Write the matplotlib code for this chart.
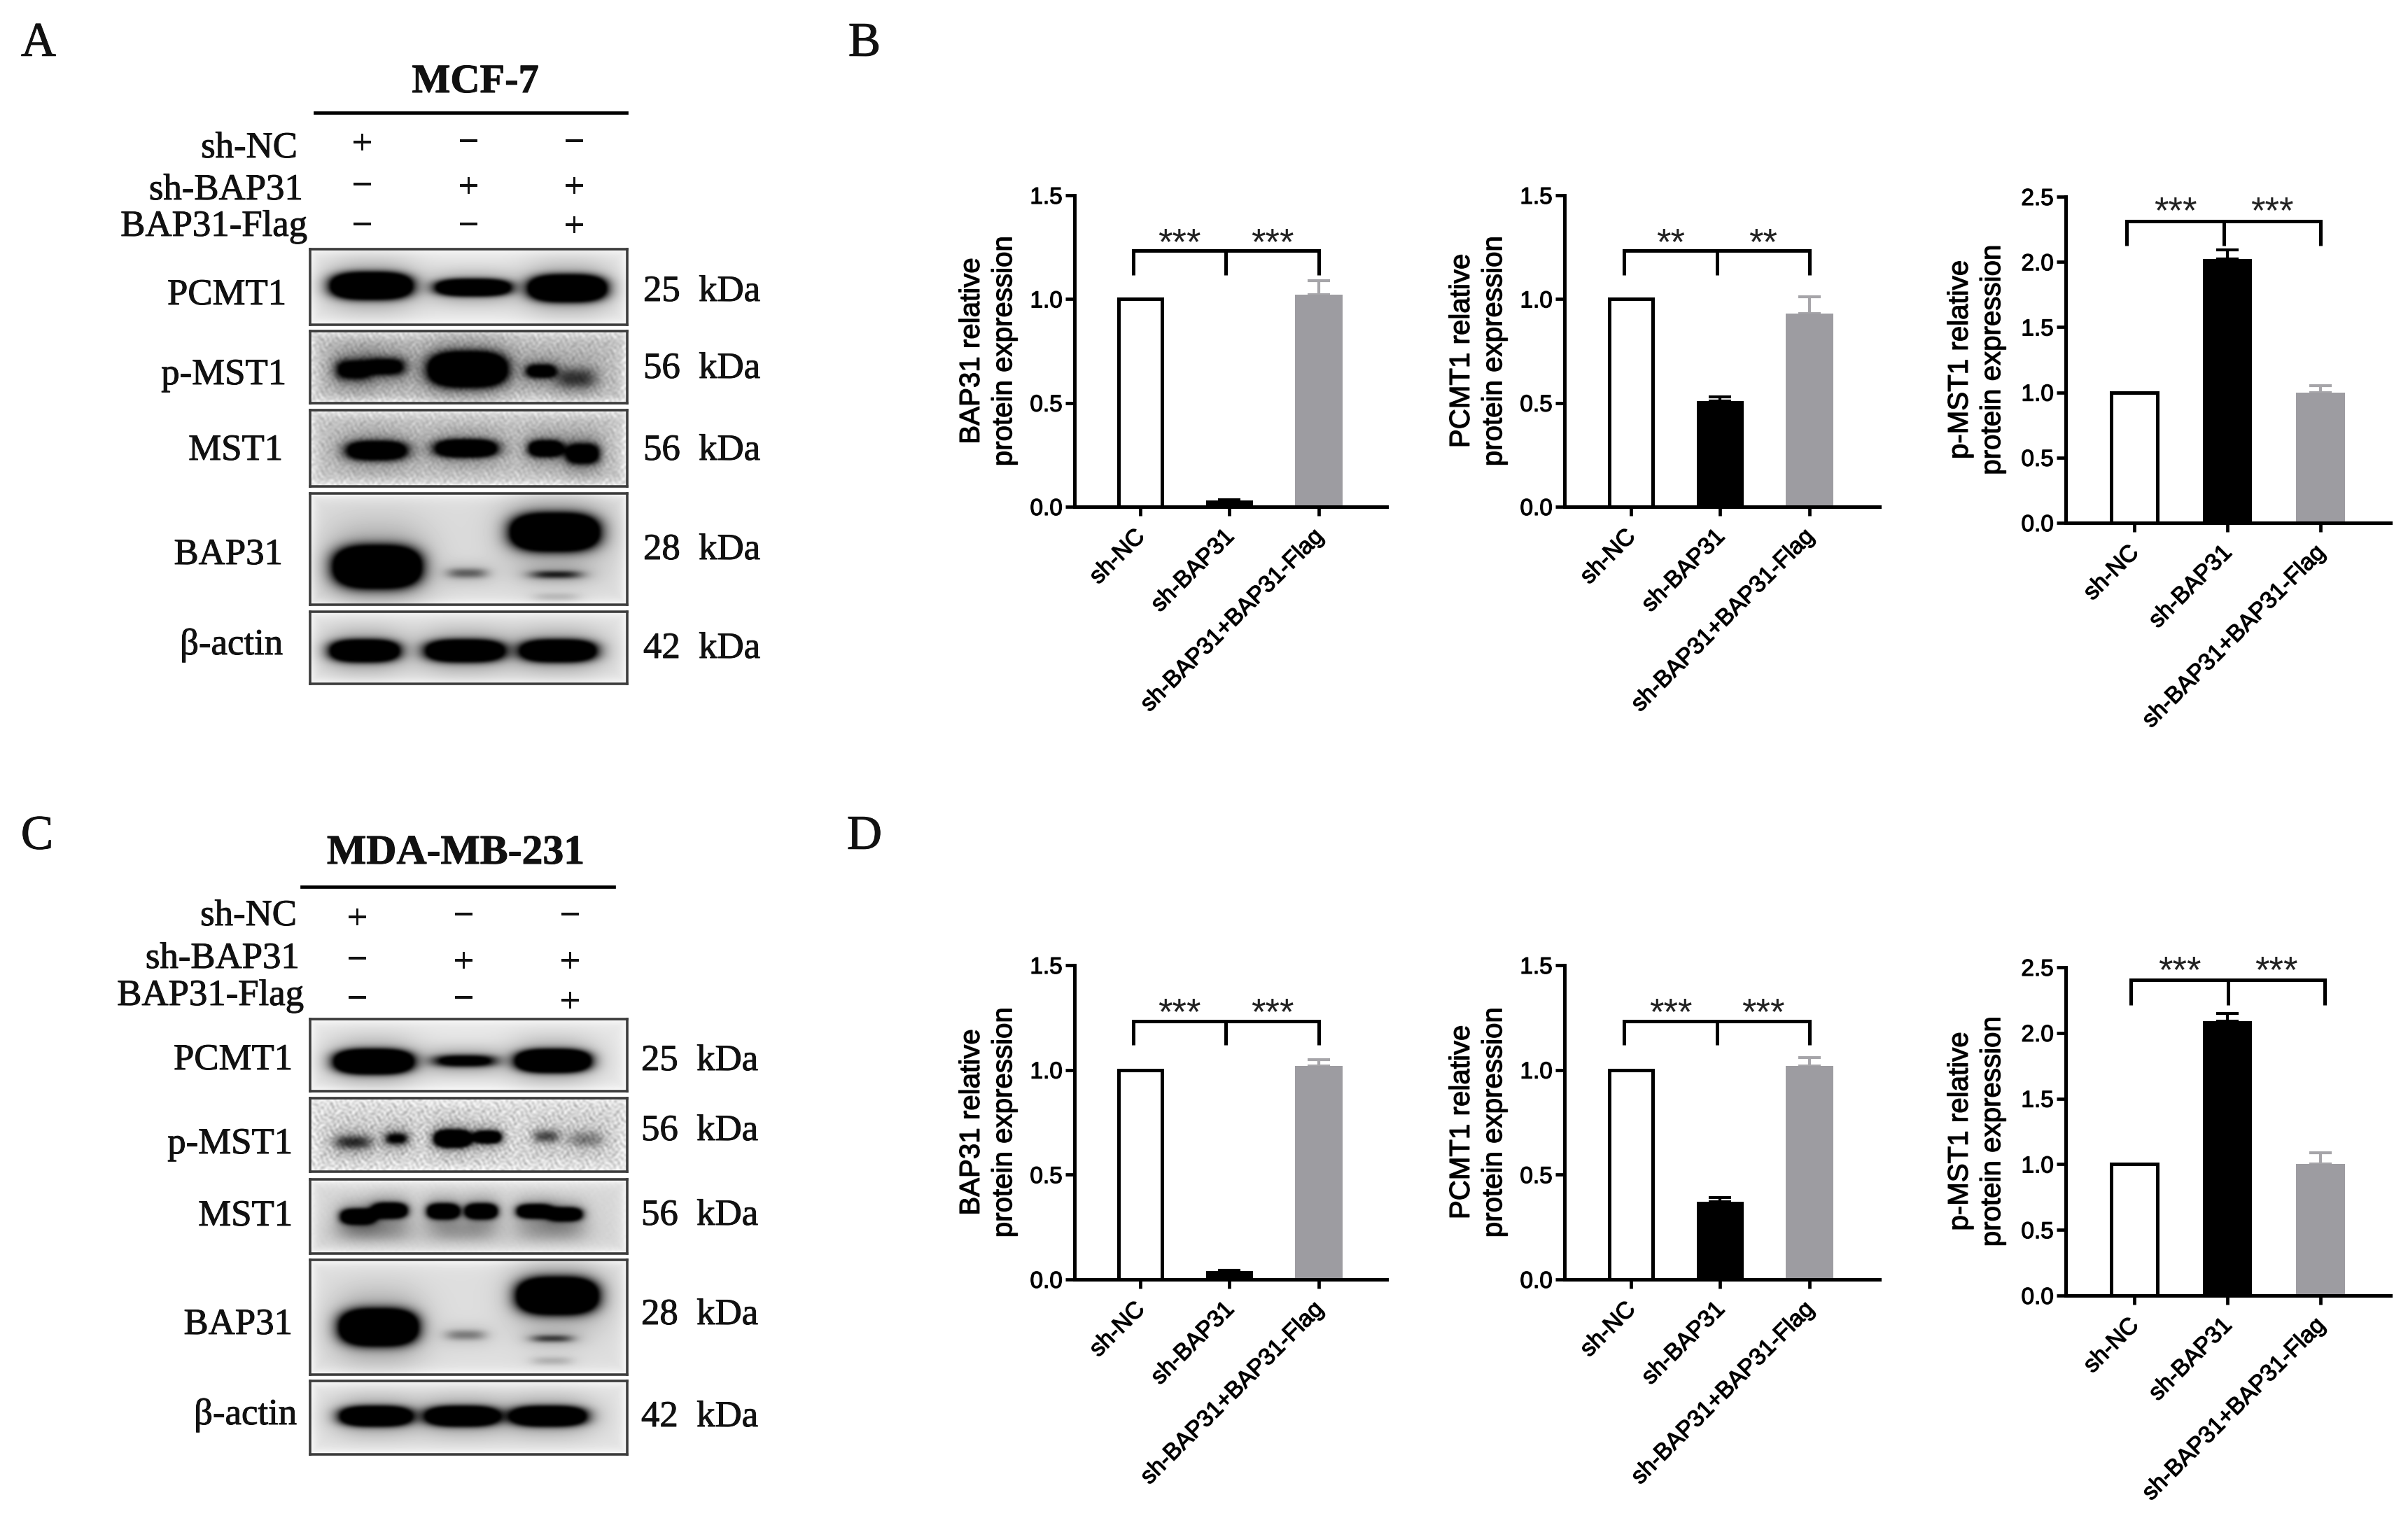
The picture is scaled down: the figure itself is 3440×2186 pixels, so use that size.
import numpy as np
import matplotlib
matplotlib.use("Agg")
import matplotlib.pyplot as plt
import matplotlib.patheffects as pe
from matplotlib.transforms import ScaledTranslation

W, H = 3441, 2186
SERIF = "Liberation Serif"
SANS = "Liberation Sans"

# ---------- bar chart data ----------
GROUPS = ["sh-NC", "sh-BAP31", "sh-BAP31+BAP31-Flag"]
B_BAP31 = [1.0, 0.03, 1.02]
B_BAP31_TOP = [1.0, 0.035, 1.09]
B_PCMT1 = [1.0, 0.51, 0.93]
B_PCMT1_TOP = [1.0, 0.53, 1.01]
B_PMST1 = [1.0, 2.02, 1.0]
B_PMST1_TOP = [1.0, 2.09, 1.05]
D_BAP31 = [1.0, 0.04, 1.02]
D_BAP31_TOP = [1.0, 0.045, 1.05]
D_PCMT1 = [1.0, 0.37, 1.02]
D_PCMT1_TOP = [1.0, 0.39, 1.06]
D_PMST1 = [1.0, 2.09, 1.0]
D_PMST1_TOP = [1.0, 2.15, 1.09]
TICKS_15 = [0.0, 0.5, 1.0, 1.5]
TICKS_25 = [0.0, 0.5, 1.0, 1.5, 2.0, 2.5]

# ---------- blot band readings: (x, y, half width, half height, strength) ----------
A_PCMT1 = [(.193, .49, .122, .16, 4), (.514, .512, .116, .105, 3), (.812, .522, .116, .16, 4)]
A_PMST1 = [(.135, .54, .06, .15, 1.15), (.24, .50, .065, .13, 1.15), (.497, .536, .118, .22, 4),
           (.728, .56, .05, .10, 1.4), (.84, .66, .07, .16, .55)]
A_MST1 = [(.21, .534, .098, .125, 2.2), (.492, .506, .10, .115, 2.4), (.743, .509, .056, .11, 2.0),
          (.86, .575, .055, .14, 1.7)]
A_BAP31 = [(.212, .66, .132, .175, 4), (.496, .717, .07, .05, .42), (.772, .348, .133, .155, 4),
           (.776, .73, .09, .04, .6), (.776, .93, .08, .04, .13)]
A_ACTIN = [(.172, .547, .108, .145, 3), (.488, .547, .122, .145, 3), (.783, .547, .118, .145, 3)]
C_PCMT1 = [(.20, .59, .118, .155, 4), (.488, .58, .108, .09, 1.1), (.767, .58, .112, .145, 4)]
C_PMST1 = [(.136, .60, .065, .11, .6), (.273, .55, .04, .09, .85), (.45, .55, .056, .11, 3.5),
           (.56, .53, .044, .085, 2.2), (.745, .52, .045, .09, .5), (.87, .56, .06, .12, .32)]
C_MST1 = [(.151, .50, .055, .10, 2.4), (.251, .42, .055, .10, 2.6), (.42, .43, .05, .10, 2.6),
          (.54, .43, .05, .10, 2.6), (.708, .43, .055, .09, 2.6), (.804, .47, .055, .09, 2.2),
          (.20, .70, .13, .16, .22), (.48, .70, .12, .16, .2), (.76, .70, .12, .16, .2)]
C_BAP31 = [(.216, .588, .118, .147, 4), (.491, .655, .07, .05, .33), (.78, .314, .122, .147, 4),
           (.763, .686, .073, .035, .5), (.763, .88, .07, .04, .15)]
C_ACTIN = [(.207, .48, .112, .13, 3), (.48, .48, .114, .13, 3), (.752, .48, .118, .13, 3)]

plt.rcParams["font.family"] = [SANS]
fig = plt.figure(figsize=(W / 100, H / 100), dpi=100, facecolor="white")
heavy_serif = [pe.withStroke(linewidth=.7, foreground="#111111")]


def px_axes(left, top, right, bottom):
    return fig.add_axes([left / W, 1 - bottom / H, (right - left) / W, (bottom - top) / H])


def px_text(x, y, s, size=38, ha="center", va="center", weight="normal", family=SERIF):
    fig.text(x / W, 1 - y / H, s, fontsize=size, ha=ha, va=va, fontweight=weight, family=family, color="#111111",
             path_effects=heavy_serif)


def soften(a, n):
    k = np.hanning(n + 2)[1:-1]
    k = k / k.sum()
    pad = n
    b = np.pad(a, pad, mode="edge")
    b = np.apply_along_axis(lambda r: np.convolve(r, k, mode="same"), 0, b)
    b = np.apply_along_axis(lambda r: np.convolve(r, k, mode="same"), 1, b)
    return b[pad:-pad, pad:-pad]


def blot(left, top, right, bottom, bands, bg, texture=0.0):
    w, h = int(right - left), int(bottom - top)
    ax = px_axes(left, top, right, bottom)
    x = (np.arange(w) + .5) / w
    y = (np.arange(h) + .5) / h
    X, Y = np.meshgrid(x, y)
    dens = np.zeros_like(X)
    for cx, cy, hw, hh, s in bands:
        dx, dy = np.abs(X - cx), np.abs(Y - cy)
        dens += s * np.exp(-((dx / (.9 * hw)) ** 3.2 + (dy / (.86 * hh)) ** 2.4))
        dens += min(s, 1.0) * .36 * np.exp(-((dx / (1.2 * hw)) ** 2.6 + (dy / (2.0 * hh)) ** 2))
    px, py = X * w, Y * h
    tex = (np.sin(px * .83 + 2.3 * np.sin(py * .31 + left)) * np.sin(py * .97 + 2.1 * np.sin(px * .27 + top))
           + .7 * np.sin(px * .59 - py * .71 + 2.7 * np.sin(px * .13 + py * .19))
           + .6 * np.sin(px * .47 + py * .89 + 2.9 * np.sin(py * .11 - px * .17)))
    tex = soften(tex, 5) * 1.5
    edge = np.minimum.reduce([px, w - px, py, h - py])
    light = bg + (1 - bg) * np.exp(-edge / 7.0)
    img = light * (1 + texture * tex) * (1 - np.clip(dens, 0, 1))
    img = soften(np.clip(img, 0, 1), 7)
    ax.imshow(np.clip(img, 0, 1), cmap="gray", vmin=0, vmax=1, aspect="auto", extent=(0, 1, 1, 0),
              interpolation="bilinear")
    ax.set_xticks([])
    ax.set_yticks([])
    for sp in ax.spines.values():
        sp.set_linewidth(2.6)
        sp.set_color("#3c3c3c")


def west_panel(letter, letter_xy, title, title_size, title_xy, line, rows, cols, marks, blots, labels, kda):
    px_text(*letter_xy, letter, size=50)
    px_text(*title_xy, title, size=title_size, weight="bold")
    fig.add_artist(plt.Line2D([line[0] / W, line[1] / W], [1 - line[2] / H] * 2, color="black", lw=3.4))
    for name, rx, ry in rows:
        px_text(rx, ry, name, ha="right")
    for col_i, col in enumerate(marks):
        for (sym, my) in col:
            px_text(cols[col_i], my, sym, size=36)
    for args in blots:
        blot(*args)
    for name, rx, ry in labels:
        px_text(rx, ry, name, ha="right")
    for name, ky in kda:
        px_text(kda_x[letter], ky, name, ha="left")


kda_x = {"A": 919, "C": 916}
west_panel(
    "A", (55, 63), "MCF-7", 42, (679, 118), (450, 895, 161),
    [("sh-NC", 425, 212), ("sh-BAP31", 433, 272), ("BAP31-Flag", 439, 324)],
    [517, 669, 820],
    [[("+", 207), ("−", 267), ("−", 324)], [("−", 205), ("+", 269), ("−", 324)], [("−", 205), ("+", 269), ("+", 325)]],
    [(443, 356, 896, 464, A_PCMT1, .90), (443, 473, 896, 576, A_PMST1, .74, .16),
     (443, 586, 896, 695, A_MST1, .76, .14), (443, 705, 896, 864, A_BAP31, .86),
     (443, 874, 896, 977, A_ACTIN, .88)],
    [("PCMT1", 409, 422), ("p-MST1", 409, 536), ("MST1", 404, 644), ("BAP31", 404, 793), ("β-actin", 404, 922)],
    [("25  kDa", 417), ("56  kDa", 527), ("56  kDa", 644), ("28  kDa", 786), ("42  kDa", 927)],
)
west_panel(
    "C", (53, 1196), "MDA-MB-231", 43, (651, 1220), (431, 877, 1267),
    [("sh-NC", 424, 1309), ("sh-BAP31", 428, 1370), ("BAP31-Flag", 434, 1423)],
    [510, 662, 814],
    [[("+", 1314), ("−", 1373), ("−", 1429)], [("−", 1310), ("+", 1376), ("−", 1429)], [("−", 1310), ("+", 1376), ("+", 1433)]],
    [(443, 1456, 896, 1559, C_PCMT1, .90), (443, 1569, 896, 1674, C_PMST1, .84, .22),
     (443, 1685, 896, 1791, C_MST1, .84, .015), (443, 1800, 896, 1964, C_BAP31, .87),
     (443, 1973, 896, 2078, C_ACTIN, .88)],
    [("PCMT1", 418, 1515), ("p-MST1", 418, 1635), ("MST1", 418, 1738), ("BAP31", 418, 1893), ("β-actin", 424, 2022)],
    [("25  kDa", 1516), ("56  kDa", 1616), ("56  kDa", 1737), ("28  kDa", 1879), ("42  kDa", 2025)],
)
px_text(1235, 63, "B", size=50)
px_text(1235, 1196, "D", size=50)

COLORS = ["white", "black", "#9d9ca1"]
ECOLORS = ["black", "black", "#a6a5a9"]
thick = [pe.withStroke(linewidth=.9, foreground="#111111")]


def bars(left, right, top, bottom, tick0, step, ymax, yticks, vals, tops, ylabel, ylab_x, stars, br_y, br_low, br_x, star_y):
    ax = px_axes(left, top, right, bottom)
    # x tick labels sit a little left of their ticks in the reference
    shift = ScaledTranslation(-9 / 100, 0, fig.dpi_scale_trans)
    base_text1 = ax.get_xaxis_text1_transform

    def shifted_text1(pad, base=base_text1, shift=shift):
        trans, va, ha = base(pad)
        return trans + shift, va, ha

    ax.get_xaxis_text1_transform = shifted_text1
    x = np.arange(3)
    ax.set_xlim((left - tick0) / step, (right - tick0) / step)
    ax.set_ylim(0, ymax)
    for i in x:
        if i == 0:
            ax.bar(i, vals[i], width=.49, color=COLORS[i], edgecolor="black", linewidth=3.6, zorder=2)
        else:
            ax.bar(i, vals[i], width=.53, color=COLORS[i], zorder=2)
            ax.errorbar(i, vals[i], yerr=[[0], [tops[i] - vals[i]]], color=ECOLORS[i], capsize=11.5,
                        elinewidth=3, capthick=3, zorder=1.5)
    ax.spines["top"].set_visible(False)
    ax.spines["right"].set_visible(False)
    for s in ("left", "bottom"):
        ax.spines[s].set_linewidth(3.6)
        ax.spines[s].set_zorder(3)
    ax.set_yticks(yticks)
    ax.set_yticklabels([f"{t:.1f}" for t in yticks], fontsize=24, path_effects=thick)
    ax.tick_params(axis="y", length=9.5, width=3.4, pad=3)
    ax.tick_params(axis="x", length=9.5, width=3.4, pad=10)
    ax.set_xticks(x)
    ax.set_xticklabels(GROUPS, rotation=45, ha="right", va="top", rotation_mode="anchor", fontsize=24.3,
                       path_effects=thick)
    ax.set_ylabel(ylabel, fontsize=29, linespacing=1.28, va="center", ha="center", path_effects=thick)
    ax.yaxis.set_label_coords((ylab_x - left) / (right - left), .5)
    to_x = lambda p: (p - tick0) / step
    to_y = lambda p: (bottom - p) / (bottom - top) * ymax
    bx = [to_x(p) for p in br_x]
    ky = dict(color="black", lw=3.6, solid_capstyle="butt", solid_joinstyle="miter", clip_on=False, zorder=4)
    ax.plot([bx[0], bx[0], bx[2], bx[2]], [to_y(br_low), to_y(br_y), to_y(br_y), to_y(br_low)], **ky)
    ax.plot([bx[1], bx[1]], [to_y(br_y), to_y(br_low)], **ky)
    for sx, s in zip(((br_x[0] + br_x[1]) / 2 + 0, (br_x[1] + br_x[2]) / 2), stars):
        ax.text(to_x(sx), to_y(star_y), s, fontsize=38, ha="center", va="center", color="#222222", family=SANS)


STAR3, STAR2 = "***", "**"
YL1 = "BAP31 relative\nprotein expression"
YL2 = "PCMT1 relative\nprotein expression"
YL3 = "p-MST1 relative\nprotein expression"
bars(1535, 1981, 279, 724, 1629, 127.5, 1.5, TICKS_15, B_BAP31, B_BAP31_TOP, YL1, 1411, (STAR3, STAR3), 358, 393,
     (1619, 1751, 1884), 349)
bars(2235, 2685, 279, 724, 2330, 127.5, 1.5, TICKS_15, B_PCMT1, B_PCMT1_TOP, YL2, 2111, (STAR2, STAR2), 358, 393,
     (2320, 2453, 2585), 349)
bars(2951, 3415, 281, 747, 3049, 133, 2.5, TICKS_25, B_PMST1, B_PMST1_TOP, YL3, 2823, (STAR3, STAR3), 316, 351,
     (3038, 3177, 3315), 304)
bars(1535, 1981, 1379, 1828, 1629, 127.5, 1.5, TICKS_15, D_BAP31, D_BAP31_TOP, YL1, 1411, (STAR3, STAR3), 1459, 1493,
     (1619, 1751, 1884), 1449)
bars(2235, 2685, 1379, 1828, 2330, 127.5, 1.5, TICKS_15, D_PCMT1, D_PCMT1_TOP, YL2, 2111, (STAR3, STAR3), 1459, 1493,
     (2320, 2453, 2585), 1449)
bars(2951, 3415, 1382, 1851, 3049, 133, 2.5, TICKS_25, D_PMST1, D_PMST1_TOP, YL3, 2823, (STAR3, STAR3), 1400, 1436,
     (3044, 3183, 3321), 1389)

fig.savefig("out.png", dpi=100, facecolor="white")
